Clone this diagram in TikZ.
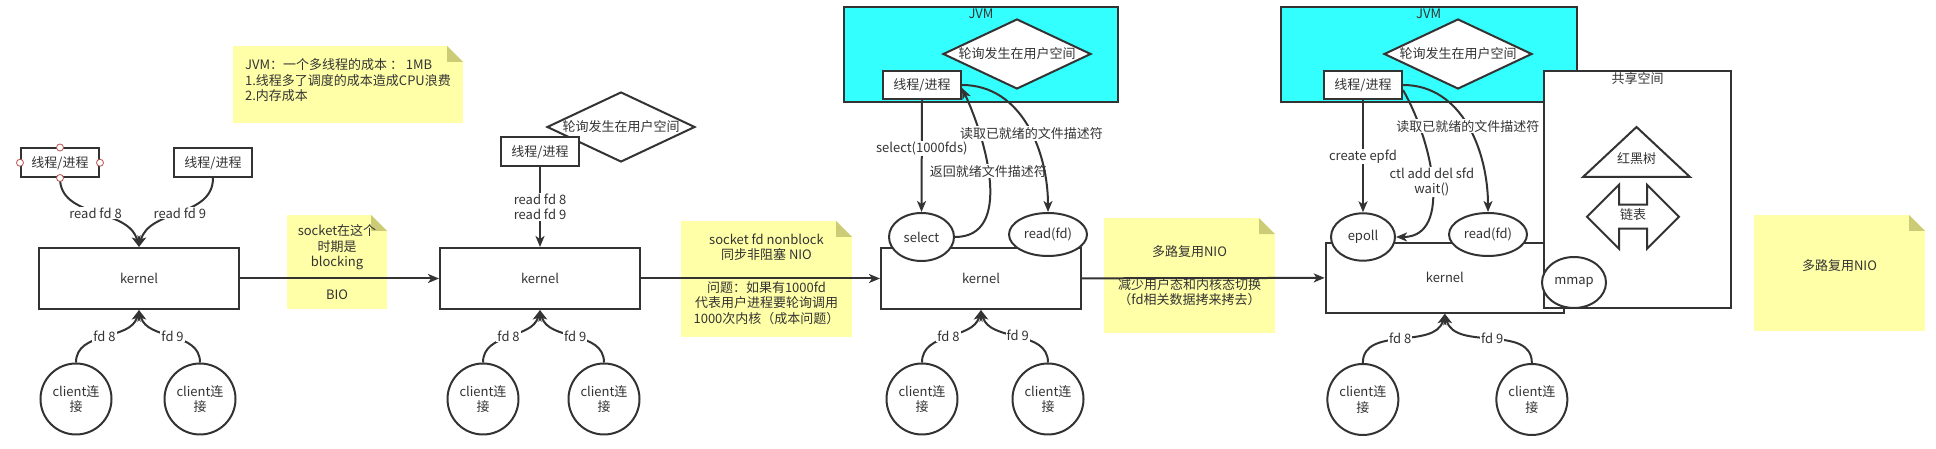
\documentclass[tikz,border=0pt]{standalone}
\usepackage{fontspec}
\setmainfont{Noto Sans CJK SC}
\usetikzlibrary{positioning,shapes.geometric,shapes.arrows,arrows.meta}
\definecolor{ink}{HTML}{333333}
\definecolor{notebg}{HTML}{FFFFA8}
\definecolor{notefold}{HTML}{CCCC77}
\definecolor{jvmcyan}{HTML}{33FFFF}
\definecolor{handlered}{HTML}{B85450}

\begin{document}
\begin{tikzpicture}[
    x=1pt, y=1pt,
    font=\fontsize{13}{15.5}\selectfont,
    every node/.style={text=ink},
    drawn/.style={draw=ink, line width=2pt},
    kbox/.style={drawn, fill=white, minimum width=200pt, minimum height=61pt},
    proc/.style={drawn, fill=white, minimum width=78pt, minimum height=28.5pt, inner sep=0pt},
    client/.style={drawn, circle, fill=white, minimum size=71pt, inner sep=0pt, align=center},
    call/.style={drawn, ellipse, fill=white, inner sep=0pt},
    poll/.style={drawn, diamond, fill=white, aspect=2.1, inner sep=0pt, minimum width=148pt, minimum height=70pt},
    jvm/.style={drawn, fill=jvmcyan, minimum height=95pt},
    note/.style={fill=notebg, inner sep=0pt, align=center, path picture={
        \fill[white] (path picture bounding box.north east) -- ++(-16pt,0pt) -- ++(16pt,-16pt) -- cycle;
        \fill[notefold] ([xshift=-16pt]path picture bounding box.north east) -- ++(16pt,-16pt) -- ++(-16pt,0pt) -- cycle;}},
    lab/.style={fill=white, inner sep=1pt, align=center},
    handle/.style={circle, draw=handlered, fill=white, line width=0.8pt, minimum size=7pt, inner sep=0pt},
    arr/.style={drawn, -{Stealth[length=11pt, width=9pt, inset=3pt]}}
]
\useasboundingbox (0,0) rectangle (1936,449);

\node[note, minimum width=230pt, minimum height=77pt, align=left] (cost) at (348,364.5)
    {JVM：一个多线程的成本 ： 1MB\\1.线程多了调度的成本造成CPU浪费\\2.内存成本\\[-6pt]~};
\node[kbox] (k1) at (139,170.5) {kernel};
\node[proc, above=69pt of k1, xshift=-79pt] (t1) {线程/进程};
\node[proc, above=69pt of k1, xshift=74pt] (t2) {线程/进程};
\node[client, below=52.5pt of k1, xshift=-63pt] (c1) {client连\\接};
\node[client, below=52.5pt of k1, xshift=61pt] (c2) {client连\\接};
\node[note, minimum width=100pt, minimum height=94pt] (bio) at (337,187) {socket在这个\\时期是\\blocking\\[17pt]BIO};

\node[kbox] (k2) at (540,170.5) {kernel};
\node[poll] (d1) at (621,322) {轮询发生在用户空间};
\node[proc, above=80pt of k2] (t3) {线程/进程};
\node[client, below=52.5pt of k2, xshift=-57pt] (c3) {client连\\接};
\node[client, below=52.5pt of k2, xshift=64pt] (c4) {client连\\接};
\node[note, minimum width=171pt, minimum height=116pt] (nio) at (766.5,170)
    {socket fd nonblock\\同步非阻塞 NIO\\[17pt]问题：如果有1000fd\\代表用户进程要轮询调用\\1000次内核（成本问题）};

\node[jvm, minimum width=274pt] (jvmA) at (981,394.8) {};
\node[anchor=north, inner sep=1pt, yshift=-2pt] (jvmAt) at (jvmA.north) {JVM};
\node[poll] (d2) at (1017,395) {轮询发生在用户空间};
\node[proc] (t4) at (922,364) {线程/进程};
\node[kbox] (k3) at (981,170.5) {kernel};
\node[call, minimum width=65pt, minimum height=48pt] (sel) at (921.5,212) {select};
\node[call, minimum width=78pt, minimum height=43pt] (rd1) at (1048,214.5) {read(fd)};
\node[client, below=52.5pt of k3, xshift=-59pt] (c5) {client连\\接};
\node[client, below=52.5pt of k3, xshift=67pt] (c6) {client连\\接};
\node[note, minimum width=171pt, minimum height=115pt] (mux) at (1189.5,173.3)
    {多路复用NIO\\[17pt]减少用户态和内核态切换\\（fd相关数据拷来拷去）};

\node[jvm, minimum width=296pt] (jvmB) at (1428.7,394.8) {};
\node[anchor=north, inner sep=1pt, yshift=-2pt] (jvmBt) at (jvmB.north) {JVM};
\node[poll] (d3) at (1458,395) {轮询发生在用户空间};
\node[proc] (t5) at (1363,364) {线程/进程};
\node[kbox, minimum width=238.3pt, minimum height=70pt] (k4) at (1444.85,171.3) {kernel};
\node[call, minimum width=64pt, minimum height=47.4pt] (ep) at (1363,212) {epoll};
\node[call, minimum width=78pt, minimum height=43pt] (rd2) at (1488,214.5) {read(fd)};
\node[client, below=49.3pt of k4, xshift=-82pt] (c7) {client连\\接};
\node[client, below=49.3pt of k4, xshift=87pt] (c8) {client连\\接};
\node[drawn, fill=white, minimum width=187pt, minimum height=237.3pt] (share) at (1637.5,259.65) {};
\node[anchor=north, inner sep=1pt, yshift=-2pt] (sharet) at (share.north) {共享空间};
\node (rbt) at (1636.5,290) {红黑树};
\draw[drawn] (1583,272) -- (1636.5,322) -- (1690,272) -- cycle;
\node[drawn, double arrow, double arrow head extend=20pt, minimum height=92pt, minimum width=62pt,
      text height=9pt, text depth=3pt, inner ysep=5pt, inner xsep=0pt] (lst) at (1633,232.3) {链表};
\node[call, minimum width=64pt, minimum height=51pt] (mmap) at (1574,166.5) {mmap};
\node[note, minimum width=171pt, minimum height=116pt] (mux2) at (1839.5,176) {多路复用NIO\\~};

\draw[arr] (t1.south) to[out=-90, in=105] node[lab] (l1) {read fd 8} (k1.north);
\draw[arr] (t2.south) to[out=-90, in=75] node[lab] (l2) {read fd 9} (k1.north);
\draw[arr] (t3) -- node[lab] (l3) {read fd 8\\read fd 9} (k2);
\draw[arr] (t4.south) -- node[lab, pos=0.43] (l4) {select(1000fds)} (sel.north);
\draw[arr] (sel.east) to[out=0, in=-65] node[lab, pos=0.56] (l5) {返回就绪文件描述符} ([yshift=-3pt]t4.east);
\draw[arr] (t4.east) to[out=0, in=90] node[lab, pos=0.55] (l6) {读取已就绪的文件描述符} (rd1.north);
\draw[arr] (t5.south) -- node[lab] (l7) {create epfd} (ep.north);
\draw[arr] ([yshift=-5pt]t5.east) to[out=-60, in=0] node[lab] (l8) {ctl add del sfd\\wait()} (ep.east);
\draw[arr] (t5.east) to[out=0, in=90] node[lab] (l9) {读取已就绪的文件描述符} (rd2.north);
\foreach \c/\k/\a/\t in {c1/k1/-105/fd 8, c2/k1/-75/fd 9, c3/k2/-105/fd 8, c4/k2/-75/fd 9,
                         c5/k3/-105/fd 8, c6/k3/-75/fd 9, c7/k4/-105/fd 8, c8/k4/-75/fd 9}
    \draw[arr] (\c.north) to[out=90, in=\a] node[lab] (f\c) {\t} (\k.south);
\foreach \a/\b in {k1/k2, k2/k3, k3/k4}
    \draw[arr] (\a) -- (\b);
\foreach \s in {north,south,east,west}
    \node[handle] (h\s) at (t1.\s) {};
\end{tikzpicture}
\end{document}
